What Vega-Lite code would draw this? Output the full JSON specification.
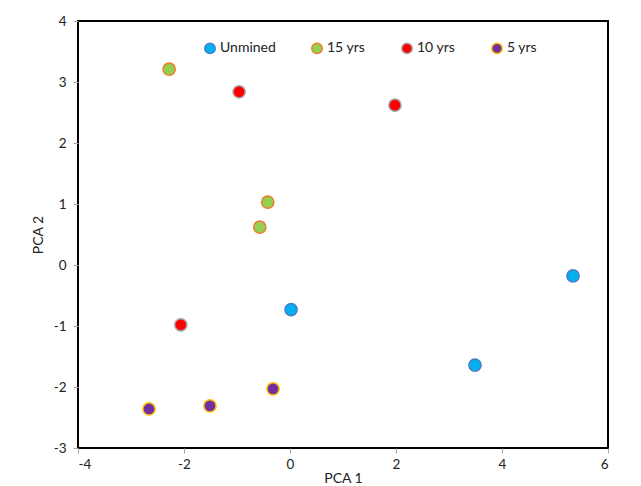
{
  "$schema": "https://vega.github.io/schema/vega-lite/v6.json",
  "width": 530,
  "height": 427,
  "autosize": "none",
  "padding": {"left": 78, "top": 21, "right": 33, "bottom": 38},
  "background": "white",
  "config": {
    "font": "Lato",
    "view": {"stroke": "black", "strokeWidth": 2},
    "axis": {"grid": false, "domain": false, "tickColor": "#A6A6A6", "tickSize": 5, "labelFontSize": 13.5, "labelColor": "#222", "titleFontSize": 14, "titleFontWeight": "normal", "titleColor": "#222", "labelFont": "Lato", "titleFont": "Lato", "labelExpr": "'' + datum.value"}
  },
  "data": {
    "values": [
      {"group": "Unmined", "pc1": 0.02, "pc2": -0.73},
      {"group": "Unmined", "pc1": 5.34, "pc2": -0.18},
      {"group": "Unmined", "pc1": 3.49, "pc2": -1.64},
      {"group": "15 yrs", "pc1": -2.28, "pc2": 3.21},
      {"group": "15 yrs", "pc1": -0.42, "pc2": 1.03},
      {"group": "15 yrs", "pc1": -0.57, "pc2": 0.62},
      {"group": "10 yrs", "pc1": -0.96, "pc2": 2.84},
      {"group": "10 yrs", "pc1": 1.98, "pc2": 2.62},
      {"group": "10 yrs", "pc1": -2.06, "pc2": -0.98},
      {"group": "5 yrs", "pc1": -2.66, "pc2": -2.36},
      {"group": "5 yrs", "pc1": -1.51, "pc2": -2.31},
      {"group": "5 yrs", "pc1": -0.32, "pc2": -2.03}
    ]
  },
  "mark": {"type": "point", "filled": true, "shape": "circle", "size": 150, "strokeWidth": 1.5, "opacity": 1},
  "encoding": {
    "x": {"field": "pc1", "type": "quantitative", "scale": {"domain": [-4, 6], "nice": false, "zero": false}, "axis": {"values": [-4, -2, 0, 2, 4, 6], "title": "PCA 1", "titlePadding": 1, "labelPadding": 4}},
    "y": {"field": "pc2", "type": "quantitative", "scale": {"domain": [-3, 4], "nice": false, "zero": false}, "axis": {"values": [-3, -2, -1, 0, 1, 2, 3, 4], "title": "PCA 2", "titlePadding": 8, "labelPadding": 7}},
    "fill": {"field": "group", "type": "nominal", "scale": {"domain": ["Unmined", "15 yrs", "10 yrs", "5 yrs"], "range": ["#00B0F0", "#92D050", "#FF0000", "#7030A0"]},
      "legend": {"title": null, "orient": "none", "legendX": 125, "legendY": 20, "direction": "horizontal", "columnPadding": 32, "labelFontSize": 14, "labelFont": "Lato", "labelColor": "#222", "symbolSize": 110, "symbolStrokeWidth": 1.5, "labelOffset": 3, "padding": 0}},
    "stroke": {"field": "group", "type": "nominal", "scale": {"domain": ["Unmined", "15 yrs", "10 yrs", "5 yrs"], "range": ["#4A7EC8", "#ED7D31", "#A5A5A5", "#FFC000"]}, "legend": null}
  }
}
